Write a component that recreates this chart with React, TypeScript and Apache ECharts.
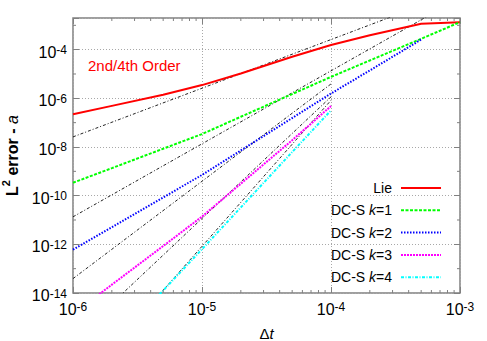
import React, { useEffect, useRef } from 'react';
import * as echarts from 'echarts';

const FONT = '"Liberation Sans", Arial, Helvetica, sans-serif';

// axis ranges and ticks
const dtRange = [1e-6, 1e-3];
const errRange = [1e-14, 2e-3];
const xTickExponents = [-6, -5, -4, -3];
const yTickExponents = [-14, -12, -10, -8, -6, -4];
const yMinorExponents = [-13, -11, -9, -7, -5, -3];
const xMinorMantissas = [2, 3, 4, 5, 6, 7, 8, 9];
const xMinorDecades = [1e-6, 1e-5, 1e-4];

const seriesNames = ['Lie', 'DC-S k=1', 'DC-S k=2', 'DC-S k=3', 'DC-S k=4'];

// Lie
const lieDt = [1e-6, 2e-6, 5e-6, 1e-5, 2e-5, 5e-5, 1e-4, 2e-4, 5e-4, 1e-3];
const lieErr = [2.2e-7, 4.9e-7, 1.4e-6, 3.5e-6, 1.05e-5, 5.1e-5, 1.55e-4, 3.9e-4, 1.15e-3, 1.35e-3];
// DC-S k=1
const k1Dt = [1e-6, 2e-6, 5e-6, 1e-5, 2e-5, 5e-5, 1e-4, 2e-4, 5e-4, 1e-3];
const k1Err = [3.4e-10, 1.35e-9, 8.5e-9, 3.4e-8, 1.75e-7, 1.5e-6, 7.6e-6, 3.6e-5, 2.8e-4, 1.35e-3];
// DC-S k=2
const k2Dt = [1e-6, 2e-6, 5e-6, 1e-5, 2e-5, 5e-5, 1e-4, 2e-4, 5e-4];
const k2Err = [6.0e-13, 5.0e-12, 8.5e-11, 7.1e-10, 7.2e-9, 1.55e-7, 1.58e-6, 1.4e-5, 2.6e-4];
// DC-S k=3
const k3Dt = [1e-6, 2e-6, 5e-6, 1e-5, 2e-5, 5e-5, 1e-4];
const k3Err = [1.35e-15, 2.2e-14, 8.5e-13, 1.38e-11, 3.1e-10, 1.9e-8, 4.8e-7];
// DC-S k=4
const k4Dt = [2e-6, 5e-6, 1e-5, 2e-5, 5e-5, 1e-4];
const k4Err = [6.8e-17, 1.26e-14, 6.3e-13, 3.3e-11, 6.2e-9, 3.2e-7];

// reference order lines (endpoints)
const ref1Dt = [1e-6, 1e-3];
const ref1Err = [2.6e-8, 2.6e-2];
const ref2Dt = [1e-6, 1e-3];
const ref2Err = [1.35e-11, 1.35e-2];
const ref3Dt = [1e-6, 1e-4];
const ref3Err = [3.9e-14, 3.9e-6];
const ref4Dt = [1e-6, 1e-4];
const ref4Err = [1.15e-16, 1.15e-6];
const ref5Dt = [1e-6, 1e-4];
const ref5Err = [8.3e-19, 8.3e-7];

const log = Math.log10;
const pts = (dt: number[], err: number[]) => dt.map((d, i) => [log(d), log(err[i])]);

const tickColor = '#808080';
const gridLine = { color: '#a8a8a8', width: 1, type: [1, 2] as any };

const expLabel = (allowed: number[]) => (v: number) => {
  const r = Math.round(v);
  if (Math.abs(v - r) > 1e-6 || !allowed.includes(r)) return '';
  return `{b|10}{s|${r}}`;
};

const labelRich = {
  b: { fontSize: 16, fontFamily: FONT, color: '#000', verticalAlign: 'bottom', lineHeight: 16 },
  s: { fontSize: 12, fontFamily: FONT, color: '#000', verticalAlign: 'top', lineHeight: 8 },
};

export default function App() {
  const ref = useRef<HTMLDivElement>(null);
  useEffect(() => {
    const chart = echarts.init(ref.current!, null, { renderer: 'svg' });
    const xMin = log(dtRange[0]);
    const xMax = log(dtRange[1]);
    const yMin = log(errRange[0]);
    const yMax = log(errRange[1]);
    const xMinor: number[] = [];
    xMinorDecades.forEach((d) => xMinorMantissas.forEach((m) => xMinor.push(log(m * d))));

    const refStyle = { color: '#222', width: 1, type: [3, 2, 1, 2] };
    const refSeries = [
      [ref1Dt, ref1Err],
      [ref2Dt, ref2Err],
      [ref3Dt, ref3Err],
      [ref4Dt, ref4Err],
      [ref5Dt, ref5Err],
    ].map(([d, e], i) => ({
      name: 'ref' + i,
      type: 'line',
      data: pts(d, e),
      symbol: 'none',
      lineStyle: refStyle,
      itemStyle: { color: '#222' },
      silent: true,
      z: 1,
    }));

    const styles = [
      { color: '#ff0000', type: 'solid' },
      { color: '#00ff00', type: [3, 1.5] },
      { color: '#0000ff', type: [1.5, 1.5] },
      { color: '#ff00ff', type: [2, 1] },
      { color: '#00ffff', type: [3, 1.5, 1, 1.5] },
    ];
    const datasets = [
      [lieDt, lieErr],
      [k1Dt, k1Err],
      [k2Dt, k2Err],
      [k3Dt, k3Err],
      [k4Dt, k4Err],
    ];
    const dataSeries = datasets.map(([d, e], i) => ({
      name: seriesNames[i],
      type: 'line',
      data: pts(d, e),
      symbol: 'none',
      color: styles[i].color,
      lineStyle: { color: styles[i].color, width: 2, type: styles[i].type },
      itemStyle: { color: styles[i].color },
      z: 3,
    }));

    const xMinorSeries = {
      type: 'custom',
      silent: true,
      xAxisIndex: 0,
      yAxisIndex: 0,
      z: 4,
      data: xMinor.map((v) => [v, yMin]),
      renderItem: (params: any, api: any) => {
        const p = api.coord([api.value(0), yMin]);
        const cs = params.coordSys;
        const st = { stroke: tickColor, lineWidth: 1 };
        return {
          type: 'group',
          children: [
            { type: 'line', shape: { x1: p[0], y1: cs.y + cs.height, x2: p[0], y2: cs.y + cs.height - 3 }, style: st },
            { type: 'line', shape: { x1: p[0], y1: cs.y, x2: p[0], y2: cs.y + 3 }, style: st },
          ],
        };
      },
    };
    const yMinorSeries = {
      type: 'custom',
      silent: true,
      xAxisIndex: 0,
      yAxisIndex: 0,
      z: 4,
      data: yMinorExponents.map((v) => [xMin, v]),
      renderItem: (params: any, api: any) => {
        const p = api.coord([xMin, api.value(1)]);
        const cs = params.coordSys;
        const st = { stroke: tickColor, lineWidth: 1 };
        return {
          type: 'group',
          children: [
            { type: 'line', shape: { x1: cs.x, y1: p[1], x2: cs.x + 3, y2: p[1] }, style: st },
            { type: 'line', shape: { x1: cs.x + cs.width, y1: p[1], x2: cs.x + cs.width - 3, y2: p[1] }, style: st },
          ],
        };
      },
    };

    const majorTick = { inside: true, length: 6, lineStyle: { color: tickColor, width: 1 } };

    const option: any = {
      animation: false,
      backgroundColor: '#fff',
      grid: {
        left: 73, right: 27, top: 18, bottom: 48, containLabel: false, outerBoundsMode: 'none',
        show: true, borderColor: tickColor, borderWidth: 1.5, backgroundColor: 'transparent',
      },
      xAxis: [
        {
          type: 'value', min: xMin, max: xMax, interval: 1, position: 'bottom',
          axisLine: { show: false }, axisTick: majorTick,
          axisLabel: { margin: 8, formatter: expLabel(xTickExponents), rich: labelRich },
          splitLine: { show: true, lineStyle: gridLine },
          name: '{n|Δ}{i|t}', nameLocation: 'middle', nameGap: 33,
          nameTextStyle: {
            rich: {
              n: { fontSize: 15, fontFamily: FONT, color: '#000' },
              i: { fontSize: 15, fontFamily: FONT, fontStyle: 'italic', color: '#000' },
            },
          },
        },
        {
          type: 'value', min: xMin, max: xMax, interval: 1, position: 'top',
          axisLine: { show: false }, axisTick: majorTick, axisLabel: { show: false }, splitLine: { show: false },
        },
      ],
      yAxis: [
        {
          type: 'value', min: yMin, max: yMax, interval: 2, position: 'left',
          axisLine: { show: false }, axisTick: majorTick,
          axisLabel: { margin: 6, padding: [5, 0, 0, 0], formatter: expLabel(yTickExponents), rich: labelRich },
          splitLine: { show: true, lineStyle: gridLine },
          name: '{b|L}{s|2}{b| error - }{i|a}', nameLocation: 'middle', nameGap: 50,
          nameTextStyle: {
            rich: {
              b: { fontSize: 16, fontWeight: 'bold', fontFamily: FONT, color: '#000', verticalAlign: 'bottom', lineHeight: 20 },
              s: { fontSize: 11, fontWeight: 'bold', fontFamily: FONT, color: '#000', verticalAlign: 'top', lineHeight: 9 },
              i: { fontSize: 16, fontStyle: 'italic', fontFamily: FONT, color: '#000', verticalAlign: 'bottom', lineHeight: 20 },
            },
          },
        },
        {
          type: 'value', min: yMin, max: yMax, interval: 2, position: 'right',
          axisLine: { show: false }, axisTick: majorTick, axisLabel: { show: false }, splitLine: { show: false },
        },
      ],
      legend: {
        data: seriesNames,
        orient: 'vertical',
        right: 45,
        top: 181,
        padding: 0,
        align: 'right',
        itemWidth: 40,
        itemHeight: 14,
        itemGap: 8.3,
        selectedMode: false,
        itemStyle: { opacity: 0 },
        formatter: (name: string) => (name.startsWith('DC-S') ? `DC-S {i|k}=${name.slice(-1)}` : name),
        textStyle: {
          fontFamily: FONT, fontSize: 14, color: '#000', padding: [0, 4, 0, 0],
          rich: { i: { fontFamily: FONT, fontSize: 14, fontStyle: 'italic', color: '#000' } },
        },
      },
      graphic: [
        {
          type: 'text', left: 88, top: 58,
          style: { text: '2nd/4th Order', fill: '#ff0000', fontSize: 15, fontFamily: FONT },
          z: 10,
        },
      ],
      series: [...refSeries, ...dataSeries, xMinorSeries, yMinorSeries],
    };
    chart.setOption(option);
    return () => chart.dispose();
  }, []);
  return <div ref={ref} style={{ position: 'fixed', left: 0, top: 0, width: 487, height: 341, background: '#fff' }} />;
}
